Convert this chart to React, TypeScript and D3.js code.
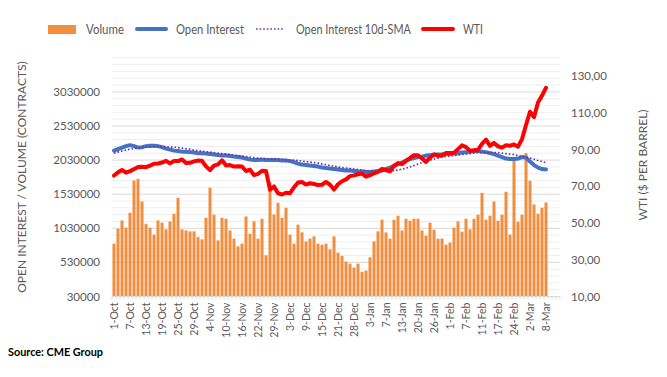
import React from 'react';
import * as d3 from 'd3';

const tickLabels = ['1-Oct','7-Oct','13-Oct','19-Oct','25-Oct','29-Oct','4-Nov','10-Nov','16-Nov','22-Nov','29-Nov','3-Dec','9-Dec','15-Dec','21-Dec','28-Dec','3-Jan','7-Jan','13-Jan','20-Jan','26-Jan','1-Feb','7-Feb','11-Feb','17-Feb','24-Feb','2-Mar','8-Mar'];

const volume = [
  805000,1024000,1145000,1039000,1258000,1730000,1755000,1423000,1097000,1039000,
  936000,1145000,1112000,1014000,1131000,1243000,1477000,1014000,999000,985000,
  985000,901000,868000,1185000,1624000,1229000,853000,1185000,1170000,999000,
  878000,765000,805000,1204000,951000,1131000,878000,1170000,634000,1705000,
  1233000,1404000,1185000,1331000,936000,805000,1083000,970000,838000,878000,
  912000,805000,790000,805000,722000,912000,673000,626000,542000,512000,
  454000,512000,393000,410000,605000,838000,985000,1156000,970000,878000,
  1156000,1214000,999000,1170000,1141000,1170000,1170000,999000,922000,1112000,
  1010000,878000,878000,790000,819000,1039000,1131000,980000,1170000,1014000,
  1170000,1229000,1550000,1156000,1214000,1423000,1141000,1229000,1565000,936000,
  2048000,1127000,1229000,2135000,1726000,1379000,1243000,1331000,1409000
];

const openInterest = [
  2169000,2191000,2213000,2235000,2249000,2235000,2213000,2220000,2235000,2242000,
  2242000,2235000,2220000,2198000,2184000,2169000,2162000,2154000,2154000,2147000,
  2140000,2132000,2132000,2125000,2118000,2111000,2103000,2096000,2096000,2089000,
  2081000,2074000,2067000,2052000,2037000,2030000,2030000,2037000,2030000,2030000,
  2030000,2030000,2023000,2023000,2015000,2001000,1979000,1964000,1957000,1950000,
  1942000,1935000,1920000,1913000,1906000,1898000,1891000,1884000,1876000,1876000,
  1869000,1862000,1862000,1855000,1855000,1862000,1869000,1876000,1898000,1920000,
  1942000,1971000,1993000,2023000,2045000,2059000,2074000,2081000,2096000,2103000,
  2111000,2111000,2111000,2118000,2118000,2125000,2132000,2140000,2147000,2154000,
  2162000,2162000,2154000,2147000,2132000,2118000,2096000,2074000,2052000,2045000,
  2045000,2052000,2074000,2067000,2008000,1957000,1920000,1898000,1891000
];

const oiSma = [
  2132000,2147000,2162000,2176000,2191000,2198000,2205000,2213000,2220000,2220000,
  2227000,2227000,2227000,2227000,2220000,2220000,2213000,2205000,2198000,2191000,
  2176000,2169000,2162000,2154000,2147000,2140000,2132000,2125000,2118000,2111000,
  2103000,2096000,2089000,2081000,2074000,2067000,2059000,2052000,2052000,2045000,
  2045000,2037000,2037000,2030000,2030000,2030000,2023000,2015000,2008000,2001000,
  1993000,1986000,1971000,1964000,1950000,1942000,1928000,1920000,1913000,1906000,
  1898000,1891000,1884000,1876000,1869000,1869000,1862000,1862000,1862000,1869000,
  1876000,1884000,1898000,1913000,1928000,1950000,1971000,1993000,2015000,2030000,
  2045000,2059000,2074000,2081000,2089000,2096000,2103000,2111000,2118000,2125000,
  2132000,2140000,2140000,2140000,2140000,2140000,2140000,2132000,2125000,2118000,
  2111000,2096000,2081000,2074000,2059000,2045000,2023000,2008000,1993000
];

const wti = [
  75.88,77.62,78.93,77.43,78.30,79.35,80.52,80.64,80.44,81.31,
  82.28,82.44,82.96,83.87,82.50,83.76,83.76,84.65,82.66,82.81,
  83.57,84.05,83.91,80.86,78.81,81.27,81.93,84.15,81.34,81.59,
  80.79,80.88,80.76,78.36,79.01,76.10,76.75,78.50,78.39,68.15,
  69.95,66.18,65.57,66.50,66.26,69.49,72.05,72.36,70.94,71.67,
  71.29,70.73,70.87,72.38,70.86,68.23,71.12,72.76,73.79,75.57,
  75.98,76.56,76.99,75.21,76.08,76.99,77.85,79.46,78.90,78.23,
  81.22,82.64,82.12,83.82,85.43,86.96,86.90,85.14,83.31,85.60,
  87.35,86.61,86.82,88.15,88.20,88.26,90.27,92.31,91.32,89.36,
  89.66,89.88,93.10,95.46,92.07,93.66,91.76,91.07,92.35,92.10,
  92.81,91.59,95.72,103.41,110.60,107.67,115.68,119.40,123.70
];

const leftTicks = [30000, 530000, 1030000, 1530000, 2030000, 2530000, 3030000];
const rightTicks = [10, 30, 50, 70, 90, 110, 130];
const legendItems = ['Volume', 'Open Interest', 'Open Interest 10d-SMA', 'WTI'];

const W = 667, H = 377;
const PL = 112, PR = 560, PT = 57.8, PB = 296.5;
const N = 112;
const FONT = 'Lato, "Open Sans", sans-serif';
const TXT = '#595959';

export default function App() {
  const x = d3.scaleBand<number>().domain(d3.range(N)).range([PL, PR]).paddingInner(0.25).paddingOuter(0.125);
  const cx = (i: number) => (x(i) as number) + x.bandwidth() / 2;
  const yL = d3.scaleLinear().domain([30000, 3530000]).range([PB, PT]);
  const yR = d3.scaleLinear().domain([10, 140]).range([PB, PT]);

  const lineL = d3.line<number>().x((_, i) => cx(i)).y(d => yL(d));
  const lineR = d3.line<number>().x((_, i) => cx(i)).y(d => yR(d));

  const minor = d3.range(30000, 3530001, 100000);
  const step = x.step();

  const lx = [48, 137, 256, 423];
  const tx = [86, 176, 296, 463];
  const tw = [38, 68, 115, 20];
  const ly = 29;

  return (
    <svg width={W} height={H} style={{ position: 'absolute', left: 0, top: 0, background: '#fff' }} fontFamily={FONT}>
      <rect x={0} y={0} width={W} height={H} fill="#fff" />
      {/* grid */}
      {minor.map(v => (
        <line key={'g' + v} x1={PL} x2={PR} y1={yL(v)} y2={yL(v)}
          stroke={leftTicks.includes(v) ? '#D9D9D9' : '#EEEEEE'} strokeWidth={1} />
      ))}
      {/* bars */}
      {volume.map((v, i) => (
        <rect key={'b' + i} x={x(i)} y={yL(v)} width={x.bandwidth()} height={PB - yL(v)} fill="#F28E3E" />
      ))}
      {/* axis line and ticks */}
      <line x1={PL} x2={PR} y1={PB} y2={PB} stroke="#D9D9D9" />
      {d3.range(N + 1).map(i => (
        <line key={'t' + i} x1={PL + i * step} x2={PL + i * step} y1={PB} y2={PB + 3} stroke="#D9D9D9" />
      ))}
      {/* lines */}
      <path d={lineL(openInterest) || ''} fill="none" stroke="#4472C4" strokeWidth={4} strokeLinejoin="round" strokeLinecap="round" />
      <path d={lineL(oiSma) || ''} fill="none" stroke="#7030A0" strokeWidth={1.6} strokeDasharray="1.6 2" />
      <path d={lineR(wti) || ''} fill="none" stroke="#FF0000" strokeWidth={4} strokeLinejoin="round" strokeLinecap="round" />
      {/* left axis labels */}
      {leftTicks.map(v => (
        <text key={'l' + v} x={100} y={yL(v)} dy="0.35em" textAnchor="end" fontSize={11.5} fill={TXT}>{v}</text>
      ))}
      {/* right axis labels */}
      {rightTicks.map(v => (
        <text key={'r' + v} x={571} y={yR(v)} dy="0.35em" textAnchor="start" fontSize={11.5} fill={TXT}>{d3.format('.2f')(v).replace('.', ',')}</text>
      ))}
      {/* x labels */}
      {tickLabels.map((t, k) => (
        <text key={'x' + k} transform={`translate(${cx(k * 4)},${PB + 6}) rotate(-90)`} textAnchor="end" dy="0.35em" fontSize={10.5} fill={TXT}>{t}</text>
      ))}
      {/* axis titles */}
      <text transform={`translate(22,177) rotate(-90)`} textAnchor="middle" dy="0.35em" fontSize={12} fill={TXT}>OPEN INTEREST / VOLUME (CONTRACTS)</text>
      <text transform={`translate(643,165) rotate(-90)`} textAnchor="middle" dy="0.35em" fontSize={12} fill={TXT}>WTI ($ PER BARREL)</text>
      {/* legend */}
      <rect x={lx[0]} y={ly - 4} width={28} height={9} fill="#F28E3E" />
      <line x1={lx[1]} x2={lx[1] + 29} y1={ly} y2={ly} stroke="#4472C4" strokeWidth={4} strokeLinecap="round" />
      <line x1={lx[2]} x2={lx[2] + 28} y1={ly} y2={ly} stroke="#7030A0" strokeWidth={1.6} strokeDasharray="1.6 2" />
      <line x1={lx[3]} x2={lx[3] + 30} y1={ly} y2={ly} stroke="#FF0000" strokeWidth={4} strokeLinecap="round" />
      {legendItems.map((t, k) => (
        <text key={'lg' + k} x={tx[k]} y={ly} dy="0.35em" fontSize={13} fill={TXT}
          textLength={tw[k]} lengthAdjust="spacingAndGlyphs">{t}</text>
      ))}
      <text x={8} y={352} dy="0.35em" fontSize={10.5} fontWeight={700} fill="#000"
        textLength={95} lengthAdjust="spacingAndGlyphs">Source: CME Group</text>
    </svg>
  );
}
